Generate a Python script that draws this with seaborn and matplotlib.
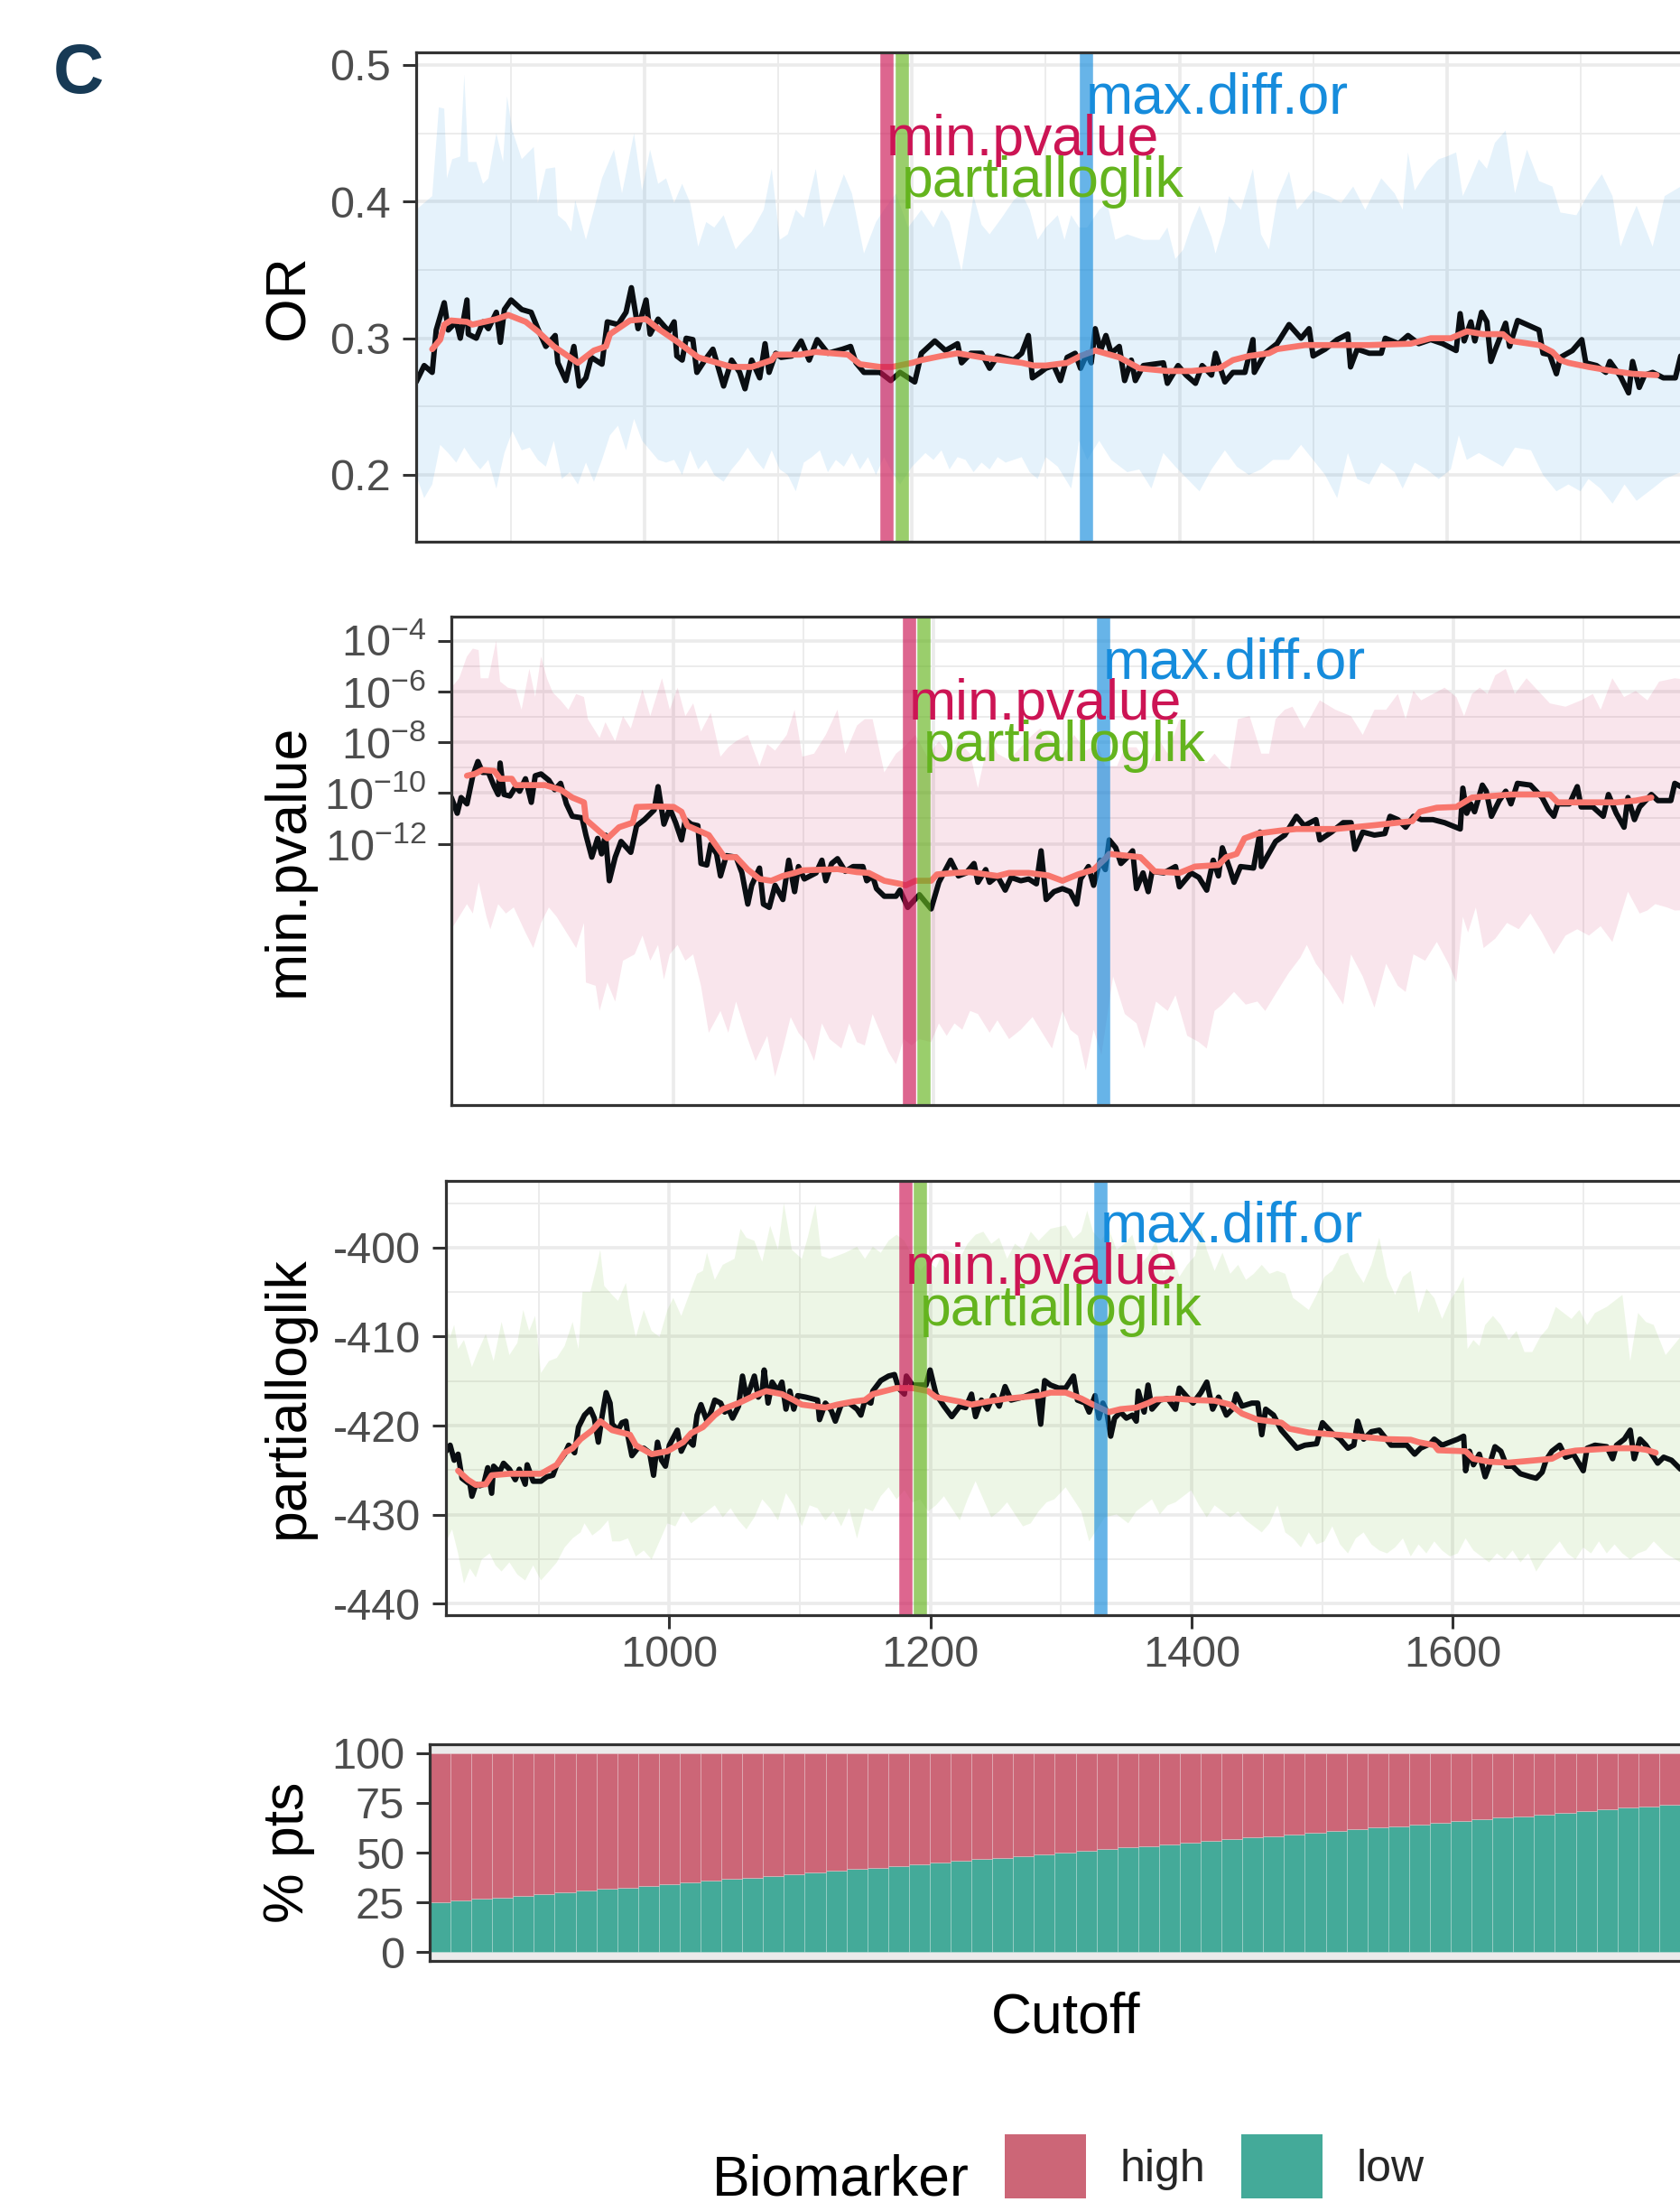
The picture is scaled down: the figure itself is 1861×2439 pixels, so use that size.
import numpy as np
import matplotlib
matplotlib.use("Agg")
import matplotlib.pyplot as plt
import seaborn as sns
from matplotlib.ticker import FixedLocator, NullFormatter, FixedFormatter
from matplotlib.patches import Patch

sns.set_theme(style="white")
plt.rcParams['font.family'] = ['Liberation Sans', 'DejaVu Sans']
plt.rcParams['mathtext.fontset'] = 'custom'
plt.rcParams['mathtext.rm'] = 'Liberation Sans'
plt.rcParams['mathtext.default'] = 'regular'

# ---------------- data ----------------
cut_names = ["min.pvalue", "partialloglik", "max.diff.or"]
cut_values = [1181, 1192, 1330]
cut_colors = ["#CC1454", "#64B41E", "#168CDC"]
label_offsets_px = [114, 160, 68]

x_limits = (829, 1790)
x_major = [1000, 1200, 1400, 1600, 1800]
x_minor = [900, 1100, 1300, 1500, 1700]

# Panel 1: OR
or_line = [(829,.268),(835,.280),(841,.275),(844,.306),(850,.326),(853,.306),(859,.312),(862,.300),(867,.328),(868,.303),
 (874,.300),(879,.312),(883,.307),(889,.319),(892,.297),(895,.321),(900,.328),(908,.321),(915,.319),(920,.307),
 (926,.294),(933,.302),(935,.282),(941,.269),(947,.294),(951,.265),(956,.271),(960,.286),(968,.281),(972,.312),
 (980,.310),(986,.319),(990,.337),(995,.307),(1001,.328),(1004,.303),(1010,.314),(1018,.305),(1022,.312),(1024,.287),
 (1028,.284),(1031,.300),(1036,.299),(1039,.275),(1045,.284),(1051,.292),(1059,.265),(1065,.284),(1071,.275),(1075,.263),
 (1080,.284),(1086,.271),(1090,.296),(1093,.275),(1098,.289),(1102,.286),(1110,.287),(1117,.298),(1123,.284),(1129,.299),
 (1137,.289),(1148,.292),(1154,.294),(1158,.282),(1164,.275),(1176,.275),(1184,.269),(1191,.275),(1202,.268),(1207,.289),
 (1217,.298),(1225,.291),(1234,.296),(1237,.282),(1244,.289),(1252,.289),(1258,.278),(1264,.287),(1276,.284),(1282,.289),
 (1287,.302),(1290,.271),(1296,.275),(1300,.278),(1306,.280),(1311,.269),(1316,.286),(1322,.289),(1326,.278),(1331,.289),
 (1334,.282),(1337,.307),(1341,.291),(1345,.302),(1349,.289),(1355,.294),(1359,.269),(1364,.284),(1367,.269),(1373,.280),
 (1388,.282),(1391,.267),(1399,.280),(1405,.273),(1412,.267),(1417,.280),(1424,.273),(1427,.289),(1434,.268),(1440,.275),
 (1449,.275),(1455,.299),(1456,.275),(1464,.289),(1473,.296),(1482,.310),(1491,.300),(1497,.307),(1500,.287),(1509,.292),
 (1518,.299),(1526,.303),(1528,.279),(1533,.292),(1542,.289),(1551,.289),(1554,.300),(1564,.296),(1571,.302),(1579,.296),
 (1588,.299),(1597,.296),(1607,.291),(1610,.318),(1613,.298),(1618,.312),(1621,.298),(1626,.319),(1630,.312),(1633,.283),
 (1636,.291),(1644,.311),(1647,.294),(1653,.313),(1669,.306),(1672,.289),(1677,.288),(1682,.274),(1685,.286),(1694,.291),
 (1701,.299),(1704,.282),(1712,.280),(1719,.275),(1722,.283),(1730,.272),(1736,.260),(1739,.283),(1744,.264),(1748,.273),
 (1754,.275),(1762,.271),(1771,.271),(1775,.287),(1782,.285),(1790,.290)]
or_smooth = [(841,.292),(847,.299),(850,.310),(855,.313),(867,.312),(871,.310),(889,.314),(898,.317),(911,.312),(920,.305),
 (932,.294),(950,.282),(962,.291),(971,.294),(974,.303),(989,.313),(1001,.314),(1010,.307),(1025,.297),(1040,.286),
 (1065,.279),(1080,.279),(1095,.284),(1098,.288),(1116,.288),(1128,.290),(1152,.288),(1161,.281),(1176,.279),(1185,.279),
 (1200,.282),(1207,.284),(1222,.287),(1234,.289),(1252,.286),(1267,.284),(1282,.282),(1291,.280),(1300,.280),(1316,.282),
 (1326,.287),(1337,.291),(1355,.286),(1370,.278),(1391,.276),(1409,.276),(1430,.278),(1440,.284),(1452,.287),(1467,.289),
 (1473,.292),(1494,.295),(1512,.295),(1542,.295),(1573,.296),(1588,.300),(1603,.300),(1615,.305),(1627,.303),(1642,.303),
 (1648,.298),(1669,.295),(1679,.290),(1685,.284),(1691,.282),(1706,.279),(1724,.276),(1739,.274),(1757,.273)]
or_upper = [(829,.394),(835,.399),(841,.404),(846,.469),(850,.468),(852,.417),(856,.431),(862,.433),(865,.493),(868,.429),
 (874,.429),(879,.413),(883,.417),(889,.450),(894,.429),(897,.477),(901,.452),(908,.431),(917,.440),(920,.399),
 (926,.424),(933,.425),(935,.390),(941,.385),(945,.378),(948,.401),(956,.372),(962,.394),(968,.417),(977,.438),
 (983,.406),(992,.450),(998,.408),(1004,.438),(1010,.413),(1016,.417),(1022,.399),(1028,.413),(1034,.399),(1040,.367),
 (1046,.385),(1052,.381),(1059,.390),(1068,.365),(1074,.372),(1080,.378),(1089,.394),(1095,.424),(1101,.372),(1107,.376),
 (1113,.394),(1119,.388),(1128,.424),(1134,.381),(1143,.404),(1149,.420),(1155,.406),(1164,.362),(1173,.385),(1179,.394),
 (1188,.406),(1197,.381),(1207,.394),(1216,.381),(1222,.394),(1228,.385),(1237,.349),(1246,.404),(1252,.383),(1258,.376),
 (1267,.388),(1276,.401),(1282,.406),(1288,.394),(1294,.372),(1300,.381),(1309,.390),(1314,.372),(1319,.390),(1325,.381),
 (1331,.381),(1340,.394),(1346,.399),(1352,.372),(1361,.376),(1373,.372),(1385,.372),(1391,.381),(1397,.358),(1403,.365),
 (1409,.383),(1415,.397),(1424,.374),(1427,.362),(1434,.385),(1437,.404),(1446,.394),(1455,.424),(1461,.376),(1467,.365),
 (1473,.401),(1482,.422),(1488,.394),(1500,.408),(1512,.404),(1521,.399),(1530,.411),(1539,.394),(1551,.417),(1561,.406),
 (1567,.394),(1571,.436),(1576,.408),(1585,.422),(1594,.431),(1600,.433),(1607,.436),(1612,.404),(1618,.417),(1624,.431),
 (1630,.424),(1636,.443),(1644,.452),(1651,.406),(1660,.438),(1669,.415),(1679,.411),(1685,.392),(1697,.390),(1706,.406),
 (1716,.420),(1724,.404),(1730,.367),(1736,.383),(1742,.397),(1754,.367),(1763,.404),(1775,.411),(1790,.400)]
or_lower = [(829,.200),(835,.183),(841,.193),(847,.222),(853,.216),(859,.209),(865,.220),(871,.211),(877,.204),(883,.211),
 (889,.190),(895,.216),(901,.232),(908,.218),(914,.220),(920,.211),(926,.206),(932,.225),(938,.197),(944,.202),
 (950,.193),(956,.209),(962,.195),(968,.211),(974,.229),(980,.236),(986,.218),(992,.241),(998,.225),(1004,.218),
 (1010,.211),(1016,.209),(1022,.211),(1028,.200),(1034,.218),(1040,.204),(1046,.211),(1052,.200),(1059,.195),(1065,.204),
 (1071,.211),(1077,.220),(1083,.211),(1089,.204),(1095,.218),(1101,.204),(1107,.200),(1113,.188),(1119,.209),(1125,.213),
 (1131,.218),(1137,.202),(1143,.211),(1149,.206),(1155,.216),(1161,.204),(1167,.213),(1173,.200),(1179,.213),(1185,.202),
 (1191,.193),(1200,.206),(1210,.216),(1216,.211),(1222,.218),(1228,.204),(1234,.213),(1240,.211),(1246,.202),(1252,.209),
 (1258,.204),(1264,.213),(1270,.209),(1276,.211),(1282,.213),(1288,.202),(1294,.197),(1300,.213),(1309,.206),(1319,.190),
 (1325,.225),(1331,.211),(1340,.225),(1349,.211),(1361,.202),(1370,.204),(1379,.190),(1388,.216),(1397,.206),(1406,.197),
 (1415,.188),(1424,.204),(1434,.218),(1443,.206),(1452,.200),(1461,.204),(1470,.211),(1482,.211),(1491,.222),(1500,.211),
 (1509,.200),(1518,.183),(1526,.216),(1533,.197),(1542,.193),(1551,.209),(1561,.202),(1567,.190),(1576,.209),(1585,.204),
 (1594,.197),(1603,.204),(1609,.229),(1615,.211),(1624,.216),(1633,.211),(1642,.206),(1651,.220),(1663,.218),(1672,.200),
 (1682,.188),(1691,.193),(1700,.188),(1706,.197),(1715,.190),(1724,.179),(1733,.193),(1742,.181),(1754,.190),(1763,.197),
 (1775,.202),(1790,.200)]

# Panel 2: min.pvalue (log10 p)
pv_line = [(829,-10.18),(833.5,-10.80),(836.5,-10.18),(841,-10.43),(845.5,-9.32),(849.4,-8.76),(853,-9.19),(857.5,-9.19),
 (862,-9.75),(865,-10.06),(866.5,-8.82),(869.5,-10.06),(874,-10.12),(878.5,-9.75),(881.5,-9.93),(886,-9.44),(890.5,-10.37),
 (893.5,-9.32),(898,-9.25),(904,-9.50),(908.5,-9.87),(913,-9.62),(917.5,-10.43),(922,-10.92),(929.5,-10.98),(932.5,-11.66),
 (937,-12.53),(941.5,-11.79),(944.5,-12.40),(947.5,-11.66),(950.5,-13.46),(955,-12.53),(959.5,-11.91),(967,-12.34),
 (971.5,-11.29),(977.5,-11.05),(985,-10.67),(988,-9.75),(992.5,-11.23),(997,-10.61),(1001.5,-11.17),(1006,-11.85),
 (1009,-11.05),(1013.5,-11.23),(1018.6,-11.29),(1021,-12.78),(1025.5,-12.84),(1028.5,-12.03),(1033,-12.40),(1036,-13.27),
 (1040.5,-12.47),(1048,-12.53),(1052.5,-13.15),(1057,-14.38),(1060,-13.64),(1066,-12.96),(1069,-14.38),(1073.5,-14.51),
 (1078,-13.64),(1084,-14.20),(1088.5,-12.65),(1093,-13.89),(1096,-12.90),(1100.5,-13.39),(1105,-13.27),(1109.5,-13.15),
 (1114,-12.65),(1117,-13.46),(1121.5,-12.78),(1126,-12.59),(1132,-13.09),(1138,-12.90),(1145.5,-12.90),(1148.5,-13.46),
 (1153,-13.27),(1156,-13.77),(1162,-14.07),(1171,-14.07),(1174,-13.83),(1180,-14.51),(1189,-14.01),(1198,-14.57),
 (1204,-13.52),(1213,-12.65),(1219,-13.27),(1225,-13.15),(1231,-12.78),(1234,-13.52),(1240,-13.02),(1243,-13.52),
 (1249,-13.27),(1255,-13.83),(1259.5,-13.33),(1267,-13.46),(1273,-13.39),(1279,-13.58),(1282.6,-12.28),(1286.5,-14.20),
 (1292.5,-13.89),(1299,-13.77),(1305,-13.89),(1310,-14.38),(1313,-13.39),(1319,-12.90),(1323,-13.64),(1328,-12.65),
 (1332,-13.02),(1335,-11.85),(1340,-12.16),(1344,-12.78),(1349,-12.53),(1353,-12.28),(1356,-13.77),(1361,-13.15),
 (1365,-13.89),(1368,-13.09),(1377,-13.15),(1386,-12.90),(1389,-13.70),(1398,-13.15),(1404,-13.33),(1410,-13.83),
 (1415,-12.65),(1419,-13.27),(1422,-12.16),(1428,-13.02),(1431,-13.52),(1436,-12.90),(1446,-12.96),(1451,-11.54),
 (1452,-12.90),(1463,-11.91),(1470,-11.66),(1479,-10.92),(1485,-11.29),(1494,-11.05),(1497,-11.85),(1506,-11.54),
 (1515,-11.17),(1521,-11.17),(1524,-12.22),(1530,-11.54),(1539,-11.66),(1547,-11.60),(1551,-10.92),(1557,-11.05),
 (1563,-11.35),(1569,-10.92),(1575,-11.05),(1584,-11.05),(1593,-11.17),(1605,-11.42),(1607,-9.81),(1610,-10.80),
 (1613,-10.43),(1616,-10.74),(1622,-9.69),(1625,-9.93),(1629,-10.92),(1635,-10.30),(1640,-9.93),(1644,-10.43),
 (1649,-9.62),(1659,-9.69),(1668,-10.18),(1673,-10.67),(1677,-10.92),(1680,-10.43),(1689,-10.43),(1695,-9.75),
 (1698,-10.55),(1707,-10.55),(1715,-10.92),(1719,-10.06),(1725,-10.80),(1731,-11.35),(1734,-10.18),(1739,-11.05),
 (1743,-10.55),(1752,-10.06),(1757,-10.30),(1767,-10.30),(1770,-9.62),(1780,-9.90),(1790,-10.10)]
pv_smooth = [(841,-9.32),(847,-9.25),(853,-9.09),(862,-9.13),(866.5,-9.44),(875.5,-9.44),(878.5,-9.69),(901,-9.69),
 (913,-9.87),(922,-10.18),(931,-10.37),(932.5,-11.05),(949,-11.79),(958,-11.35),(968.5,-11.17),(971.5,-10.55),
 (985,-10.53),(1000,-10.55),(1006,-10.74),(1010.5,-11.29),(1027,-11.66),(1039,-12.53),(1048,-12.53),(1057,-13.02),
 (1066,-13.39),(1075,-13.46),(1084,-13.27),(1093,-13.15),(1099,-13.05),(1126,-13.00),(1141,-13.12),(1150,-13.15),
 (1162,-13.46),(1174,-13.58),(1178.5,-13.64),(1186,-13.46),(1198,-13.46),(1202.5,-13.21),(1216,-13.15),(1228,-13.12),
 (1249,-13.27),(1258,-13.15),(1273,-13.15),(1288,-13.25),(1299,-13.46),(1311,-13.21),(1323,-13.02),(1332,-12.59),
 (1335,-12.40),(1359,-12.53),(1370,-13.09),(1389,-13.15),(1401,-12.90),(1419,-12.84),(1425,-12.53),(1433,-12.40),
 (1439,-11.79),(1449,-11.60),(1467,-11.48),(1479,-11.42),(1509,-11.42),(1539,-11.27),(1557,-11.17),(1568,-11.11),
 (1574,-10.74),(1587,-10.58),(1602,-10.55),(1614,-10.18),(1629,-10.12),(1644,-10.06),(1674,-10.06),(1680,-10.37),
 (1704,-10.37),(1725,-10.37),(1740,-10.30),(1752,-10.18)]
pv_upper = [(829,-5.85),(835,-5.48),(841,-4.62),(845.5,-4.31),(850,-4.37),(851.5,-5.48),(857.5,-5.48),(863.5,-4.00),
 (866.5,-5.61),(872.5,-5.85),(878.5,-5.92),(883,-6.72),(889,-5.11),(893.5,-6.22),(898,-4.62),(902.5,-5.48),(907,-6.04),
 (913,-6.35),(919,-6.72),(925,-6.10),(931,-6.22),(934,-7.09),(943,-7.83),(947.5,-7.21),(955,-7.96),(961,-6.97),
 (967,-7.46),(976,-5.92),(982,-6.97),(991,-5.48),(997,-6.72),(1003,-5.85),(1009,-6.97),(1015,-6.47),(1021,-7.58),
 (1028.5,-6.84),(1036,-8.57),(1042,-8.20),(1048,-7.96),(1057,-7.71),(1066,-8.94),(1072,-8.08),(1078,-8.33),(1087,-7.71),
 (1093,-6.72),(1099,-8.57),(1108,-8.45),(1117,-7.71),(1126,-6.72),(1132,-8.45),(1141,-7.34),(1147,-7.09),(1153,-7.09),
 (1162,-9.19),(1171,-8.45),(1177,-8.20),(1186,-7.71),(1195,-8.57),(1204,-7.96),(1213,-8.57),(1219,-7.96),(1228,-8.45),
 (1234,-9.81),(1243,-7.71),(1249,-8.45),(1258,-8.70),(1267,-8.20),(1276,-7.71),(1282,-7.46),(1291,-7.96),(1299,-8.70),
 (1308,-7.71),(1317,-8.33),(1326,-8.08),(1332,-8.94),(1341,-8.94),(1347,-8.20),(1356,-8.20),(1365,-8.94),(1374,-7.96),
 (1380,-8.45),(1389,-7.09),(1395,-8.20),(1403,-8.70),(1410,-8.82),(1416,-8.45),(1422,-8.82),(1428,-9.07),(1434,-7.09),
 (1443,-6.97),(1452,-8.45),(1458,-8.45),(1463,-7.09),(1470,-6.72),(1476,-6.60),(1485,-7.46),(1497,-6.35),(1509,-6.72),
 (1521,-6.97),(1530,-7.71),(1539,-6.72),(1548,-6.72),(1557,-6.10),(1563,-7.09),(1569,-5.98),(1575,-6.35),(1584,-6.10),
 (1593,-5.85),(1602,-6.22),(1608,-6.97),(1614,-6.10),(1620,-5.85),(1626,-6.10),(1632,-5.36),(1640,-5.11),(1647,-6.10),
 (1656,-5.48),(1665,-5.98),(1674,-6.47),(1686,-6.60),(1698,-6.35),(1707,-6.10),(1713,-6.72),(1722,-5.48),(1731,-6.22),
 (1740,-5.98),(1749,-6.35),(1758,-5.61),(1770,-5.48),(1790,-5.60)]
pv_lower = [(829,-15.37),(835,-14.88),(841,-14.38),(845.5,-14.75),(850,-13.52),(856,-14.88),(859,-15.37),(865,-14.38),
 (871,-14.75),(877,-14.51),(886,-15.50),(892,-16.11),(898,-15.12),(904,-14.51),(910,-14.88),(916,-15.37),(925,-16.11),
 (931,-15.12),(932.5,-17.47),(940,-17.60),(943,-18.59),(949,-17.47),(955,-18.22),(961,-16.61),(970,-16.36),(976,-15.62),
 (982,-16.61),(988,-15.99),(992.5,-17.35),(997,-16.36),(1003,-15.99),(1009,-16.61),(1015,-16.36),(1021,-17.60),
 (1027,-19.45),(1036,-18.59),(1042,-19.45),(1048,-18.22),(1057,-19.70),(1063,-20.56),(1072,-19.57),(1078,-21.18),
 (1084,-20.07),(1090,-18.83),(1096,-19.45),(1102,-19.82),(1108,-20.56),(1114,-19.08),(1120,-19.70),(1129,-20.07),
 (1135,-19.08),(1141,-19.82),(1147,-19.95),(1153,-18.71),(1159,-19.45),(1165,-20.19),(1171,-20.69),(1177,-19.70),
 (1183,-19.95),(1189,-19.70),(1198,-19.82),(1204,-19.08),(1210,-19.57),(1216,-19.08),(1222,-19.33),(1228,-18.59),
 (1234,-18.71),(1243,-19.45),(1249,-18.96),(1258,-19.70),(1267,-19.33),(1276,-18.83),(1282,-19.33),(1291,-20.07),
 (1299,-18.59),(1305,-19.33),(1311,-19.57),(1317,-20.93),(1323,-19.33),(1329,-20.32),(1338,-17.23),(1347,-18.71),
 (1356,-19.08),(1362,-20.07),(1371,-18.22),(1380,-18.59),(1386,-17.97),(1395,-19.57),(1404,-19.82),(1410,-20.07),
 (1416,-18.59),(1422,-18.34),(1431,-17.84),(1440,-18.34),(1449,-18.22),(1455,-18.59),(1464,-17.84),(1473,-17.10),
 (1482,-16.49),(1487,-15.99),(1494,-16.73),(1503,-17.35),(1515,-18.34),(1521,-16.36),(1530,-17.23),(1539,-18.46),
 (1548,-16.73),(1557,-17.60),(1563,-17.84),(1569,-16.36),(1578,-16.61),(1587,-15.87),(1596,-16.73),(1602,-17.47),
 (1607,-14.88),(1611,-15.50),(1617,-14.51),(1623,-16.11),(1632,-15.74),(1641,-15.12),(1650,-15.37),(1659,-14.75),
 (1668,-15.50),(1677,-16.36),(1686,-15.62),(1695,-15.37),(1704,-15.62),(1713,-15.25),(1722,-15.87),(1734,-13.89),
 (1743,-14.75),(1749,-14.63),(1755,-14.38),(1764,-14.51),(1770,-14.63),(1790,-14.60)]

# Panel 3: partialloglik
pl_line = [(829.2,-422.88),(832.2,-422.20),(835.3,-423.89),(838.3,-423.21),(841.3,-425.92),(844.3,-426.25),(847.4,-426.59),
 (848.9,-427.94),(851.9,-426.59),(854.9,-426.76),(857.9,-426.59),(861.0,-424.73),(864.0,-427.60),(865.5,-424.56),
 (870.0,-425.24),(873.1,-424.23),(877.6,-424.90),(882.1,-426.08),(885.2,-424.90),(889.7,-426.59),(891.2,-424.40),
 (895.8,-426.25),(901.8,-426.25),(906.3,-425.75),(910.9,-425.58),(913.9,-424.40),(919.9,-423.21),(923.0,-422.20),
 (927.5,-423.05),(930.5,-420.17),(935.1,-418.82),(939.6,-418.15),(942.6,-419.16),(945.7,-421.86),(948.7,-418.82),
 (951.7,-416.29),(954.7,-417.47),(956.3,-419.84),(960.8,-420.51),(963.8,-419.67),(966.8,-419.50),(968.4,-421.19),
 (971.4,-423.38),(975.9,-422.54),(980.5,-422.54),(985.0,-423.05),(988.0,-425.58),(991.0,-421.86),(994.1,-423.89),
 (997.1,-424.56),(1000.1,-422.20),(1006.2,-420.51),(1009.2,-422.88),(1013.7,-421.52),(1018.3,-422.20),(1021.3,-418.82),
 (1024.3,-417.64),(1028.9,-419.50),(1031.9,-418.48),(1034.9,-417.13),(1039.4,-417.47),(1042.5,-418.48),(1045.5,-418.15),
 (1048.5,-419.16),(1053.1,-417.81),(1056.1,-414.43),(1059.1,-416.80),(1062.1,-415.78),(1065.2,-414.43),(1068.2,-416.80),
 (1071.2,-416.12),(1072.7,-413.75),(1075.7,-417.47),(1078.8,-415.11),(1083.3,-416.12),(1086.3,-415.11),(1089.4,-418.15),
 (1092.4,-416.12),(1095.4,-418.15),(1098.4,-416.63),(1104.5,-416.80),(1113.6,-417.13),(1115.1,-419.33),(1119.6,-417.47),
 (1124.1,-418.31),(1127.2,-419.50),(1131.7,-417.64),(1137.8,-417.47),(1143.8,-418.15),(1146.8,-418.82),(1149.9,-417.13),
 (1154.4,-417.47),(1155.9,-416.12),(1162.0,-414.94),(1168.0,-414.43),(1172.5,-414.26),(1175.6,-415.78),(1180.1,-416.46),
 (1181.6,-414.43),(1186.2,-415.44),(1196.7,-415.44),(1199.8,-413.75),(1204.3,-416.46),(1210.4,-417.81),(1216.4,-418.99),
 (1222.5,-417.81),(1227.0,-417.98),(1231.5,-416.46),(1234.6,-418.99),(1239.1,-417.13),(1243.6,-418.15),(1248.2,-416.63),
 (1252.7,-417.81),(1257.2,-415.61),(1261.8,-417.13),(1270.9,-416.80),(1281.4,-416.12),(1284.5,-419.84),(1287.5,-414.94),
 (1292.0,-415.44),(1298.1,-415.78),(1303.6,-415.78),(1309.6,-414.43),(1312.6,-417.13),(1318.6,-417.47),(1321.6,-418.48),
 (1326.1,-416.63),(1329.1,-419.16),(1332.1,-417.47),(1335.1,-418.48),(1338.1,-421.19),(1341.1,-419.16),(1345.6,-418.48),
 (1350.1,-419.16),(1354.7,-418.82),(1357.7,-419.50),(1359.2,-416.12),(1363.7,-418.48),(1366.7,-415.44),(1369.7,-418.15),
 (1375.7,-417.13),(1381.7,-416.96),(1387.7,-418.15),(1390.7,-415.78),(1396.7,-416.80),(1401.2,-417.47),(1407.2,-416.29),
 (1411.7,-415.11),(1416.2,-418.15),(1420.7,-416.80),(1426.7,-418.82),(1431.2,-418.15),(1434.2,-416.46),(1438.7,-417.81),
 (1446.2,-417.47),(1450.7,-417.47),(1453.8,-421.02),(1456.8,-418.15),(1462.8,-418.82),(1468.8,-420.51),(1474.8,-421.52),
 (1480.8,-422.54),(1486.8,-422.20),(1495.8,-422.03),(1500.3,-419.67),(1507.8,-420.85),(1513.8,-421.52),(1519.8,-422.54),
 (1524.3,-422.20),(1527.3,-419.50),(1531.8,-421.52),(1537.8,-420.68),(1543.8,-420.51),(1552.8,-422.20),(1564.9,-422.20),
 (1570.9,-423.21),(1575.4,-422.54),(1582.9,-422.03),(1585.9,-421.52),(1591.9,-422.20),(1597.9,-421.86),(1603.9,-421.52),
 (1608.4,-421.19),(1609.9,-425.07),(1612.9,-422.88),(1615.9,-424.40),(1620.4,-423.21),(1624.9,-425.75),(1627.9,-424.56),
 (1632.4,-422.37),(1636.9,-422.88),(1641.4,-424.56),(1645.9,-424.56),(1651.9,-425.41),(1659.5,-425.75),(1664.0,-425.92),
 (1668.5,-425.24),(1671.5,-423.89),(1676.0,-422.88),(1682.0,-422.20),(1686.5,-423.55),(1692.5,-423.21),(1700.0,-425.07),
 (1703.0,-422.54),(1709.0,-422.20),(1718.0,-422.37),(1722.5,-423.72),(1725.5,-422.20),(1731.5,-421.52),(1736.0,-420.51),
 (1739.0,-423.72),(1743.5,-421.52),(1748.0,-422.20),(1752.5,-423.21),(1757.0,-424.22),(1761.6,-423.55),(1767.6,-423.89),
 (1774.5,-424.90),(1782,-424.50),(1790,-425.20)]
pl_smooth = [(838.3,-425.07),(845.8,-426.08),(851.9,-426.66),(859.5,-426.59),(864.0,-425.58),(877.6,-425.41),(901.8,-425.41),
 (907.9,-424.90),(913.9,-424.40),(919.9,-423.05),(926.0,-422.54),(932.1,-421.52),(941.1,-420.51),(947.2,-419.50),
 (956.3,-420.51),(969.9,-421.02),(974.4,-422.20),(986.5,-423.21),(998.6,-422.88),(1010.7,-421.86),(1016.8,-420.85),
 (1025.8,-420.17),(1034.9,-418.82),(1041.0,-418.15),(1053.1,-417.47),(1065.2,-416.63),(1074.2,-416.12),(1086.3,-416.46),
 (1095.4,-417.13),(1101.5,-417.64),(1119.6,-417.98),(1128.7,-417.64),(1140.8,-417.30),(1149.9,-417.13),(1155.9,-416.46),
 (1165.0,-416.12),(1174.1,-415.78),(1186.2,-415.78),(1198.3,-416.12),(1204.3,-416.80),(1222.5,-417.30),(1231.5,-417.64),
 (1243.6,-417.30),(1258.8,-416.96),(1270.9,-416.80),(1282.9,-416.63),(1292.0,-416.29),(1303.6,-416.29),(1315.6,-416.96),
 (1324.6,-417.64),(1336.6,-418.48),(1345.6,-418.15),(1357.7,-417.98),(1366.7,-417.47),(1372.7,-417.06),(1387.7,-416.96),
 (1402.7,-417.13),(1417.7,-417.20),(1429.7,-417.64),(1438.7,-418.65),(1450.7,-419.33),(1468.8,-419.67),(1474.8,-420.34),
 (1489.8,-420.78),(1519.8,-421.12),(1549.8,-421.52),(1567.9,-421.59),(1573.9,-421.86),(1585.9,-422.20),(1588.9,-422.77),
 (1609.9,-422.88),(1615.9,-423.72),(1627.9,-424.06),(1642.9,-424.16),(1664.0,-423.89),(1676.0,-423.72),(1685.0,-423.05),
 (1694.0,-422.81),(1724.0,-422.54),(1739.0,-422.54),(1748.0,-422.71),(1755.5,-423.05)]
pl_upper = [(829.2,-408.35),(832.2,-410.04),(835.3,-408.69),(838.3,-411.39),(842.8,-410.38),(848.9,-413.42),(853.4,-411.73),
 (859.5,-409.70),(865.5,-412.74),(871.6,-408.35),(877.6,-412.07),(883.7,-410.71),(888.2,-407.00),(892.7,-409.36),
 (897.3,-407.67),(901.8,-414.09),(907.9,-412.74),(913.9,-412.40),(919.9,-411.05),(926.0,-408.35),(930.5,-411.39),
 (933.6,-404.97),(939.6,-404.97),(944.2,-402.27),(947.2,-400.24),(950.2,-404.29),(956.3,-405.31),(960.8,-405.98),
 (966.8,-403.96),(969.9,-407.00),(974.4,-410.04),(980.5,-407.00),(986.5,-409.36),(992.6,-410.04),(998.6,-407.00),
 (1003.1,-405.65),(1009.2,-407.67),(1015.2,-405.31),(1021.3,-402.94),(1025.8,-402.61),(1028.9,-400.58),(1034.9,-403.62),
 (1041.0,-401.93),(1050.0,-401.25),(1054.6,-397.88),(1059.1,-398.89),(1065.2,-399.23),(1071.2,-401.59),(1077.3,-397.54),
 (1083.3,-400.24),(1087.8,-395.00),(1093.9,-400.24),(1101.5,-401.25),(1106.0,-398.89),(1112.0,-395.17),(1116.6,-400.92),
 (1122.6,-401.25),(1128.7,-400.92),(1134.7,-400.58),(1143.8,-399.90),(1149.9,-401.25),(1155.9,-399.90),(1162.0,-400.58),
 (1168.0,-399.23),(1174.1,-398.55),(1180.1,-399.23),(1186.2,-400.92),(1192.2,-402.61),(1198.3,-401.59),(1204.3,-402.27),
 (1210.4,-400.24),(1216.4,-400.58),(1222.5,-401.25),(1228.5,-399.56),(1234.6,-398.55),(1240.6,-398.21),(1246.7,-399.56),
 (1252.7,-398.89),(1258.8,-401.25),(1264.8,-399.56),(1270.9,-400.24),(1276.9,-398.21),(1282.9,-399.23),(1292.0,-397.88),
 (1303.6,-397.50),(1309.6,-399.00),(1315.6,-398.21),(1320.1,-395.85),(1324.6,-398.21),(1330.6,-399.23),(1336.6,-397.88),
 (1342.6,-400.24),(1348.6,-399.56),(1354.7,-398.55),(1360.7,-401.93),(1366.7,-400.92),(1372.7,-399.23),(1378.7,-402.94),
 (1384.7,-400.24),(1390.7,-403.28),(1396.7,-401.93),(1402.7,-400.92),(1407.2,-397.88),(1411.7,-400.24),(1417.7,-402.61),
 (1423.7,-400.58),(1429.7,-402.94),(1435.7,-401.93),(1441.7,-403.62),(1447.7,-402.94),(1453.8,-401.93),(1459.8,-402.94),
 (1465.8,-402.61),(1471.8,-402.94),(1477.8,-405.65),(1483.8,-406.32),(1489.8,-407.00),(1495.8,-405.31),(1501.8,-403.28),
 (1507.8,-402.61),(1513.8,-400.92),(1519.8,-400.58),(1525.8,-402.61),(1531.8,-403.96),(1537.8,-401.93),(1543.8,-398.89),
 (1549.8,-403.28),(1555.9,-405.31),(1561.9,-403.28),(1567.9,-402.61),(1573.9,-407.34),(1579.9,-404.63),(1585.9,-405.65),
 (1591.9,-408.01),(1597.9,-405.98),(1603.9,-404.63),(1608.4,-403.28),(1611.4,-411.39),(1615.9,-410.38),(1620.4,-411.05),
 (1624.9,-408.69),(1630.9,-407.67),(1636.9,-408.69),(1642.9,-410.38),(1648.9,-409.36),(1655.0,-411.73),(1661.0,-411.73),
 (1667.0,-410.04),(1673.0,-409.02),(1679.0,-406.66),(1685.0,-407.34),(1691.0,-408.01),(1697.0,-407.00),(1703.0,-408.69),
 (1709.0,-407.34),(1718.0,-406.66),(1730.0,-405.31),(1736.0,-412.74),(1742.0,-407.34),(1748.0,-408.35),(1754.0,-408.69),
 (1763.1,-412.07),(1774.5,-410.04),(1790,-409.00)]
pl_lower = [(829.2,-433.01),(833.7,-431.66),(838.3,-434.36),(842.8,-437.74),(847.4,-436.05),(851.9,-437.06),(856.4,-435.04),
 (862.5,-434.36),(867.0,-435.71),(871.6,-436.39),(877.6,-435.37),(883.7,-436.73),(889.7,-437.40),(895.8,-435.71),
 (901.8,-437.40),(907.9,-436.39),(913.9,-435.37),(919.9,-433.69),(926.0,-432.67),(932.1,-432.00),(935.1,-430.98),
 (941.1,-432.34),(947.2,-431.66),(953.2,-430.65),(956.3,-433.01),(962.3,-433.01),(968.4,-432.67),(974.4,-434.70),
 (980.5,-434.03),(986.5,-435.04),(992.6,-433.01),(998.6,-430.98),(1004.7,-431.32),(1010.7,-429.63),(1016.8,-430.98),
 (1022.8,-430.31),(1028.9,-429.63),(1034.9,-428.96),(1041.0,-430.31),(1047.0,-429.29),(1053.1,-430.65),(1059.1,-431.66),
 (1065.2,-430.31),(1071.2,-428.28),(1077.3,-429.29),(1083.3,-430.65),(1089.4,-427.60),(1095.4,-428.96),(1101.5,-431.32),
 (1107.5,-428.96),(1113.6,-429.29),(1119.6,-430.65),(1125.7,-429.63),(1131.7,-431.32),(1137.8,-429.29),(1143.8,-432.67),
 (1149.9,-429.29),(1155.9,-429.63),(1162.0,-427.94),(1168.0,-426.93),(1174.1,-428.28),(1180.1,-427.27),(1186.2,-428.62),
 (1192.2,-428.28),(1198.3,-429.63),(1204.3,-428.96),(1210.4,-427.94),(1216.4,-429.29),(1222.5,-430.65),(1228.5,-428.28),
 (1234.6,-426.25),(1240.6,-428.28),(1246.7,-430.31),(1252.7,-429.63),(1258.8,-428.62),(1264.8,-429.97),(1270.9,-431.32),
 (1276.9,-430.98),(1282.9,-429.63),(1289.0,-428.62),(1295.0,-428.28),(1303.6,-426.93),(1309.6,-428.28),(1315.6,-429.63),
 (1321.6,-433.01),(1327.6,-431.66),(1333.6,-430.31),(1342.6,-429.97),(1351.6,-430.98),(1357.7,-429.63),(1363.7,-428.96),
 (1369.7,-428.28),(1375.7,-429.97),(1381.7,-428.96),(1387.7,-428.62),(1393.7,-427.94),(1399.7,-427.27),(1405.7,-428.96),
 (1411.7,-430.31),(1417.7,-428.96),(1423.7,-429.63),(1429.7,-430.31),(1435.7,-429.63),(1441.7,-430.65),(1447.7,-431.32),
 (1453.8,-432.00),(1459.8,-430.98),(1465.8,-428.96),(1471.8,-432.00),(1477.8,-432.67),(1483.8,-433.69),(1489.8,-432.00),
 (1495.8,-433.35),(1501.8,-433.01),(1507.8,-431.32),(1513.8,-433.35),(1519.8,-434.36),(1525.8,-432.67),(1531.8,-432.00),
 (1537.8,-433.35),(1543.8,-434.03),(1549.8,-434.36),(1555.9,-433.69),(1561.9,-432.67),(1567.9,-434.70),(1573.9,-433.35),
 (1579.9,-434.36),(1585.9,-433.01),(1591.9,-434.03),(1597.9,-434.70),(1603.9,-434.36),(1609.9,-432.67),(1615.9,-434.03),
 (1621.9,-434.70),(1627.9,-435.37),(1633.9,-434.36),(1639.9,-435.04),(1645.9,-434.03),(1651.9,-435.37),(1657.9,-434.36),
 (1664.0,-436.39),(1670.0,-435.04),(1676.0,-434.03),(1682.0,-433.01),(1688.0,-434.36),(1694.0,-435.04),(1700.0,-433.69),
 (1706.0,-434.36),(1712.0,-433.01),(1718.0,-434.36),(1724.0,-433.35),(1730.0,-434.36),(1736.0,-435.04),(1742.0,-434.36),
 (1748.0,-434.03),(1754.0,-433.01),(1763.1,-434.36),(1774.5,-435.37),(1790,-435.00)]

# Panel 4: % patients per group at each cutoff
pct_low = [25.0, 25.8, 26.7, 27.5, 28.3, 29.2, 30.0, 30.8, 31.7, 32.5, 33.3, 34.2, 35.0, 35.8, 36.7, 37.5,
           38.3, 39.2, 40.0, 40.8, 41.7, 42.5, 43.3, 44.2, 45.0, 45.8, 46.7, 47.5, 48.3, 49.2, 50.0, 50.8,
           51.7, 52.5, 53.3, 54.2, 55.0, 55.8, 56.7, 57.5, 58.3, 59.2, 60.0, 60.8, 61.7, 62.5, 63.3, 64.2,
           65.0, 65.8, 66.7, 67.5, 68.3, 69.2, 70.0, 70.8, 71.7, 72.5, 73.3, 74.2, 75.0]
group_labels = ["high", "low"]
group_colors = ["#CC6677", "#44AA99"]

or_ticks = [0.2, 0.3, 0.4, 0.5]
or_minor = [0.25, 0.35, 0.45]
pv_ticks_exp = [-4, -6, -8, -10, -12]
pv_minor_exp = [-5, -7, -9, -11]
pl_ticks = [-440, -430, -420, -410, -400]
pl_minor = [-435, -425, -415, -405, -395]
pct_ticks = [0, 25, 50, 75, 100]

# ---------------- figure ----------------
W, H = 1861, 2439
DPI = 100
fig = plt.figure(figsize=(W / DPI, H / DPI), dpi=DPI)
fig.patch.set_facecolor("white")

def rect(l, t, r, b):
    return [l / W, 1 - b / H, (r - l) / W, (b - t) / H]

RIGHT = 1884
ax1 = fig.add_axes(rect(461, 58, RIGHT, 600))
ax2 = fig.add_axes(rect(500, 683, RIGHT, 1224))
ax3 = fig.add_axes(rect(494, 1308, RIGHT, 1789))
ax4 = fig.add_axes(rect(476, 1932, RIGHT, 2172))

TICK_COL = "#4D4D4D"
BORDER = "#333333"
GRID = "#EBEBEB"
TICK_FS = 35
TITLE_FS = 45

def style_axes(ax, show_x=False):
    ax.set_facecolor("white")
    for s in ax.spines.values():
        s.set_visible(True)
        s.set_color(BORDER)
        s.set_linewidth(2.3)
        s.set_zorder(10)
    ax.tick_params(axis="y", which="major", length=11, width=2.2, color=BORDER,
                   labelsize=TICK_FS, labelcolor=TICK_COL, pad=9, left=True)
    ax.tick_params(axis="y", which="minor", length=0)
    ax.tick_params(axis="x", which="minor", length=0)
    if show_x:
        ax.tick_params(axis="x", which="major", length=11, width=2.2, color=BORDER,
                       labelsize=TICK_FS, labelcolor=TICK_COL, pad=5, bottom=True)
    else:
        ax.tick_params(axis="x", which="major", length=0, labelbottom=False)
    ax.grid(True, which="major", color=GRID, linewidth=2.6, zorder=0)
    ax.grid(True, which="minor", color=GRID, linewidth=1.3, zorder=0)
    ax.set_axisbelow(True)

def draw_metric(ax, line, smooth, upper, lower, band_color, ytrans=None):
    f = (lambda v: v) if ytrans is None else ytrans
    ux, uy = zip(*upper)
    lx, ly = zip(*lower)
    poly_x = list(ux) + list(lx)[::-1]
    poly_y = [f(v) for v in list(uy) + list(ly)[::-1]]
    ax.fill(poly_x, poly_y, color=band_color, alpha=0.11, linewidth=0, zorder=1)
    x, y = zip(*line)
    sns.lineplot(x=list(x), y=[f(v) for v in y], ax=ax, color="#0A0E12", linewidth=4.3,
                 estimator=None, sort=False, zorder=3)
    sx, sy = zip(*smooth)
    sns.lineplot(x=list(sx), y=[f(v) for v in sy], ax=ax, color="#F8766D", linewidth=4.8,
                 estimator=None, sort=False, zorder=4)
    for name, val, col, off in zip(cut_names, cut_values, cut_colors, label_offsets_px):
        ax.axvline(val, color=col, alpha=0.65, linewidth=10.5, zorder=5)
    for name, val, col, off in zip(cut_names, cut_values, cut_colors, label_offsets_px):
        ax.annotate(name, xy=(val, 1), xycoords=ax.get_xaxis_transform(),
                    xytext=(0, -off), textcoords="offset pixels",
                    ha="left", va="baseline", fontsize=TITLE_FS, color=col, zorder=6)
    ax.set_xlim(*x_limits)
    ax.xaxis.set_major_locator(FixedLocator(x_major))
    ax.xaxis.set_minor_locator(FixedLocator(x_minor))
    ax.set_xlabel("")
    ax.set_ylabel("")

# Panel 1
draw_metric(ax1, or_line, or_smooth, or_upper, or_lower, cut_colors[2])
ax1.set_ylim(0.1511, 0.5092)
ax1.yaxis.set_major_locator(FixedLocator(or_ticks))
ax1.yaxis.set_minor_locator(FixedLocator(or_minor))
ax1.set_yticklabels([f"{v:.1f}" for v in or_ticks])
style_axes(ax1)

# Panel 2
ax2.set_yscale("log")
draw_metric(ax2, pv_line, pv_smooth, pv_upper, pv_lower, cut_colors[0], ytrans=lambda v: 10.0 ** v)
ax2.set_ylim(10 ** -22.3, 10 ** -3.05)
ax2.yaxis.set_major_locator(FixedLocator([10.0 ** e for e in pv_ticks_exp]))
ax2.yaxis.set_minor_locator(FixedLocator([10.0 ** e for e in pv_minor_exp]))
ax2.yaxis.set_major_formatter(FixedFormatter([r"$10^{\mathrm{-%d}}$" % (-e) for e in pv_ticks_exp]))
ax2.yaxis.set_minor_formatter(NullFormatter())
style_axes(ax2)

# Panel 3
draw_metric(ax3, pl_line, pl_smooth, pl_upper, pl_lower, cut_colors[1])
ax3.set_ylim(-441.3, -392.5)
ax3.yaxis.set_major_locator(FixedLocator(pl_ticks))
ax3.yaxis.set_minor_locator(FixedLocator(pl_minor))
ax3.set_yticklabels([str(v) for v in pl_ticks])
ax3.set_xticklabels([str(v) for v in x_major])
style_axes(ax3, show_x=True)

# Panel 4
idx = np.arange(len(pct_low))
pct_high = [100 - v for v in pct_low]
ax4.bar(idx, pct_low, width=1.0, color=group_colors[1], edgecolor=(1, 1, 1, 0.25),
        linewidth=0.6, zorder=2)
ax4.bar(idx, pct_high, bottom=pct_low, width=1.0, color=group_colors[0],
        edgecolor=(1, 1, 1, 0.25), linewidth=0.6, zorder=2)
ax4.set_xlim(-0.5, len(pct_low) - 0.5)
ax4.set_ylim(-4.45, 104.45)
ax4.set_yticks(pct_ticks)
ax4.set_yticklabels([str(v) for v in pct_ticks])
ax4.set_xticks([])
style_axes(ax4)
ax4.grid(False)
ax4.set_facecolor("#EBEBEB")

# Axis titles
def ytitle(text, yc):
    fig.text(336 / W, 1 - yc / H, text, rotation=90, rotation_mode="anchor",
             ha="center", va="baseline", fontsize=TITLE_FS, color="black")

ytitle("OR", 329)
ytitle("min.pvalue", 953)
ytitle("partialloglik", 1548)
ytitle("% pts", 2052)
fig.text(1181 / W, 1 - 2252 / H, "Cutoff", ha="center", va="baseline", fontsize=TITLE_FS, color="black")

# Panel tag
fig.text(59 / W, 1 - 103 / H, "C", ha="left", va="baseline", fontsize=56,
         fontweight="bold", color="#173A55")

# Legend
fig.text(789 / W, 1 - 2432 / H, "Biomarker", ha="left", va="baseline", fontsize=TITLE_FS, color="black")
handles = [Patch(facecolor=c, edgecolor="none") for c in group_colors]
fig.legend(handles, group_labels, loc="upper left", bbox_to_anchor=(1113 / W, 1 - 2364 / H),
           ncol=2, frameon=False, fontsize=36, handlelength=1.8, handleheight=1.8,
           handletextpad=0.75, columnspacing=0.8, borderpad=0, borderaxespad=0)

fig.savefig("out.png", dpi=DPI)
